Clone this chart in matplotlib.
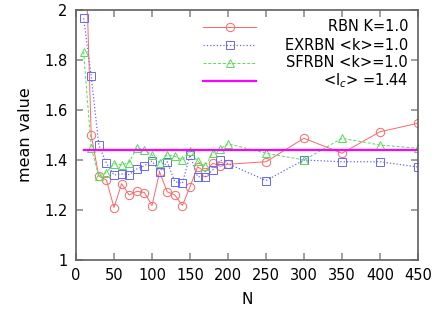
import matplotlib
matplotlib.use("Agg")
import matplotlib.pyplot as plt

N = [10, 20, 30, 40, 50, 60, 70, 80, 90, 100, 110, 120, 130, 140, 150,
     160, 170, 180, 190, 200, 250, 300, 350, 400, 450]
rbn = [2.50, 1.50, 1.335, 1.32, 1.21, 1.305, 1.26, 1.275, 1.27, 1.218, 1.352,
       1.273, 1.26, 1.218, 1.293, 1.373, 1.353, 1.387, 1.375, 1.383,
       1.393, 1.487, 1.427, 1.513, 1.547]
exrbn = [1.967, 1.736, 1.46, 1.387, 1.34, 1.344, 1.342, 1.364, 1.377, 1.396,
         1.353, 1.393, 1.313, 1.307, 1.42, 1.333, 1.333, 1.36, 1.40, 1.385,
         1.318, 1.40, 1.393, 1.393, 1.372]
sfrbn = [1.833, 1.45, 1.335, 1.35, 1.385, 1.38, 1.39, 1.45, 1.44, 1.42,
         1.39, 1.42, 1.415, 1.40, 1.435, 1.395, 1.375, 1.43, 1.445, 1.465,
         1.427, 1.40, 1.487, 1.46, 1.447]
lc_value = 1.44
labels = ["RBN K=1.0", "EXRBN <k>=1.0", "SFRBN <k>=1.0", r"<l$_c$> =1.44"]
xticks = [0, 50, 100, 150, 200, 250, 300, 350, 400, 450]
yticks = [1, 1.2, 1.4, 1.6, 1.8, 2]

plt.rcParams['font.family'] = ['DejaVu Sans']
fig = plt.figure(figsize=(4.36, 3.17), dpi=100)
ax = fig.add_axes([76/436, 1-260/317, (418-76)/436, 250/317])

red, blue, green, mag = '#ff6666', '#6666ff', '#55dd55', '#ff00ff'
MS = 6
ax.plot(N, rbn, '-', color=red, lw=0.7, marker='o', ms=MS, mfc='none', mec=red, mew=0.7)
ax.plot(N, exrbn, ':', color=blue, lw=0.9, marker='s', ms=MS, mfc='none', mec=blue, mew=0.7)
ax.plot(N, sfrbn, '--', color=green, lw=0.7, dashes=(3, 2), marker='^', ms=MS, mfc='none', mec=green, mew=0.7)
ax.plot([N[0], N[-1]], [lc_value, lc_value], '-', color=mag, lw=1.6)

ax.set_xlim(0, 450)
ax.set_ylim(1, 2)
ax.set_xticks(xticks)
ax.set_yticks(yticks)
ax.set_yticklabels(["1", "1.2", "1.4", "1.6", "1.8", "2"])
fc = '#606060'
for s in ax.spines.values():
    s.set_color(fc)
    s.set_linewidth(1.2)
ax.tick_params(direction='in', top=True, right=True, length=5, width=1.2,
               color='#909090', labelsize=10.5, pad=6)
ax.set_xlabel("N", fontsize=11, labelpad=6)
ax.set_ylabel("mean value", fontsize=11.5, labelpad=8)

# key
styles = [dict(ls='-', color=red, marker='o', lw=0.7),
          dict(ls=':', color=blue, marker='s', lw=0.9),
          dict(ls='--', color=green, marker='^', lw=0.7, dashes=(3, 2)),
          dict(ls='-', color=mag, marker=None, lw=1.6)]
rows_y = [26.7, 45, 62.7, 80.7]
for st, lab, yy in zip(styles, labels, rows_y):
    yf = 1 - (yy - 10) / 250
    x0, x1 = (203 - 76) / 342, (256 - 76) / 342
    ax.plot([x0, x1], [yf, yf], transform=ax.transAxes, ls=st['ls'], color=st['color'],
            lw=st['lw'], **({'dashes': st['dashes']} if 'dashes' in st else {}))
    if st['marker']:
        ax.plot([(x0 + x1) / 2], [yf], transform=ax.transAxes, marker=st['marker'], ms=MS,
                mfc='none', mec=st['color'], mew=0.7, ls='none')
    ax.text((408 - 76) / 342, yf, lab, transform=ax.transAxes, ha='right', va='center',
            fontsize=10.5)

fig.savefig("out.png", dpi=100)
